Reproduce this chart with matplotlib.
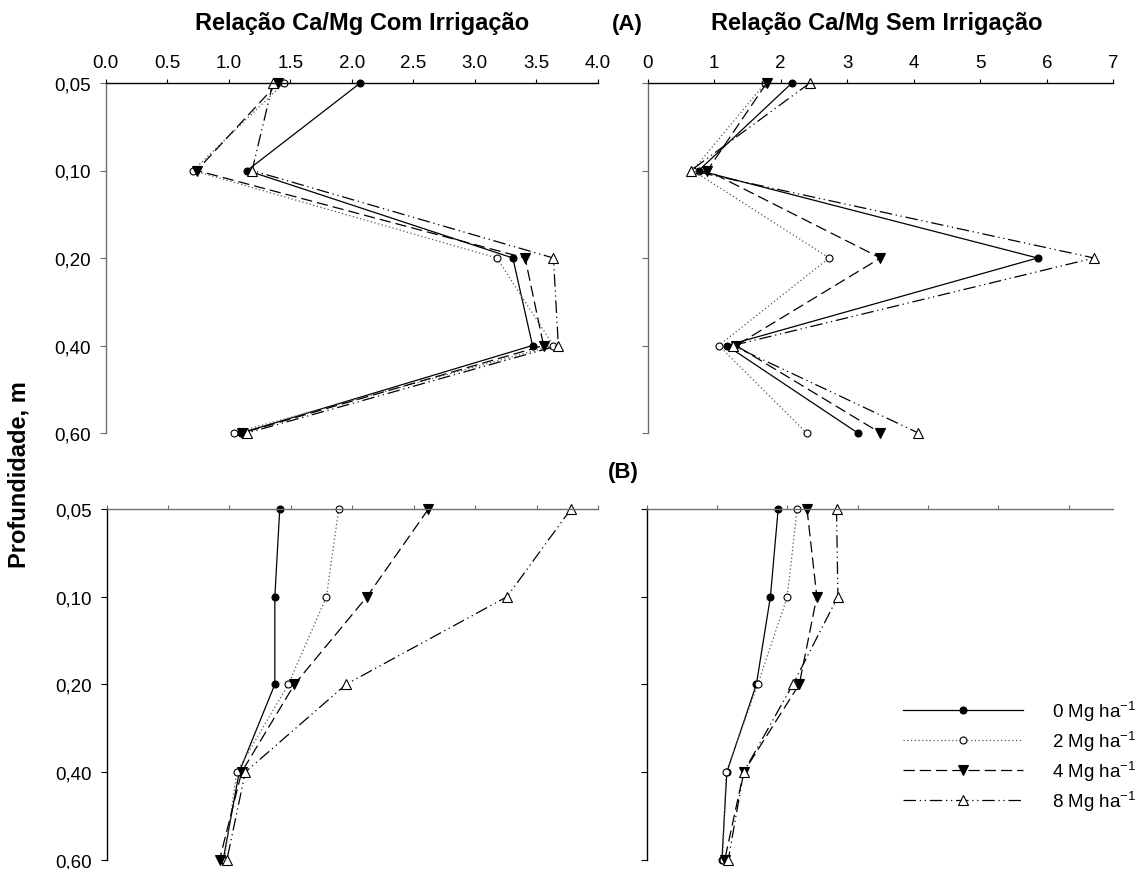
import numpy as np
import matplotlib
matplotlib.use("Agg")
import matplotlib.pyplot as plt

plt.rcParams['font.family'] = ['Liberation Sans', 'DejaVu Sans']
plt.rcParams['mathtext.fontset'] = 'custom'
plt.rcParams['mathtext.rm'] = 'Liberation Sans'

# -----------------------------
# DATA
# -----------------------------
depths = ["0,05", "0,10", "0,20", "0,40", "0,60"]
doses = ["0 Mg ha$^{\\mathregular{-1}}$", "2 Mg ha$^{\\mathregular{-1}}$",
         "4 Mg ha$^{\\mathregular{-1}}$", "8 Mg ha$^{\\mathregular{-1}}$"]

# (A) Com irrigação
a_com_0 = [2.07, 1.15, 3.31, 3.47, 1.10]
a_com_2 = [1.45, 0.71, 3.18, 3.64, 1.04]
a_com_4 = [1.40, 0.74, 3.41, 3.56, 1.11]
a_com_8 = [1.36, 1.19, 3.64, 3.68, 1.15]

# (A) Sem irrigação
a_sem_0 = [2.17, 0.77, 5.86, 1.19, 3.16]
a_sem_2 = [1.77, 0.68, 2.73, 1.07, 2.39]
a_sem_4 = [1.79, 0.90, 3.50, 1.33, 3.50]
a_sem_8 = [2.44, 0.65, 6.71, 1.28, 4.07]

# (B) Com irrigação
b_com_0 = [1.41, 1.37, 1.37, 1.08, 0.95]
b_com_2 = [1.89, 1.79, 1.48, 1.06, 0.96]
b_com_4 = [2.62, 2.12, 1.53, 1.10, 0.92]
b_com_8 = [3.78, 3.26, 1.95, 1.13, 0.98]

# (B) Sem irrigação
b_sem_0 = [1.87, 1.76, 1.56, 1.14, 1.07]
b_sem_2 = [2.14, 2.00, 1.58, 1.13, 1.08]
b_sem_4 = [2.28, 2.42, 2.17, 1.38, 1.11]
b_sem_8 = [2.70, 2.72, 2.08, 1.38, 1.16]

# -----------------------------
# STYLES
# -----------------------------
styles = [
    dict(color="black", ls="-", marker="o", mfc="black", mec="black", ms=5),
    dict(color="#555555", ls=(0, (1, 2)), marker="o", mfc="white", mec="black", ms=5),
    dict(color="black", ls=(0, (9, 4)), marker="v", mfc="black", mec="black", ms=6.5),
    dict(color="black", ls=(0, (10, 3, 1, 3, 1, 3)), marker="^", mfc="white", mec="black", ms=7),
]

W, H = 1139, 870
TICK_FS = 13.5
TITLE_FS = 17
fig = plt.figure(figsize=(W / 100, H / 100), dpi=100)


def px_axes(x0, x1, ytop, ybot):
    return fig.add_axes([x0 / W, 1 - ybot / H, (x1 - x0) / W, (ybot - ytop) / H])


def draw_panel(ax, series, xmax, xticks, xlabels, top_dark, ylabels):
    yidx = np.arange(len(depths))
    for vals, st, lab in zip(series, styles, doses):
        ax.plot(vals, yidx, lw=0.9, mew=0.8, clip_on=False, label=lab, **st)
    ax.set_xlim(0, xmax)
    ax.set_ylim(len(depths) - 1, 0)
    ax.xaxis.tick_top()
    ax.set_xticks(xticks)
    ax.set_yticks(yidx)
    if xlabels is None:
        ax.set_xticklabels([])
    else:
        ax.set_xticklabels(xlabels)
    ax.set_yticklabels(depths if ylabels else [])
    for s in ["right", "bottom"]:
        ax.spines[s].set_visible(False)
    dark, grey = "black", "#6e6e6e"
    ax.spines["top"].set_color(dark if top_dark else grey)
    ax.spines["left"].set_color(grey if top_dark else dark)
    ax.spines["top"].set_linewidth(1.0)
    ax.spines["left"].set_linewidth(1.0)
    ax.tick_params(axis="x", direction="out", length=3, width=0.8, pad=5.5,
                   labelsize=TICK_FS, colors=dark if top_dark else grey,
                   labelcolor="black")
    ax.tick_params(axis="y", direction="out", length=4.5, width=0.8, pad=6,
                   labelsize=TICK_FS, colors=grey if top_dark else dark,
                   labelcolor="black")


ax_tl = px_axes(105.7, 597.7, 84, 434)
ax_tr = px_axes(647.5, 1113.4, 84, 434)
ax_bl = px_axes(106.5, 598.0, 510, 860.7)
ax_br = px_axes(646.7, 1113.4, 510, 860.7)

t_left = np.arange(0, 4.01, 0.5)
draw_panel(ax_tl, [a_com_0, a_com_2, a_com_4, a_com_8], 4.0, t_left,
           [f"{v:.1f}" for v in t_left], True, True)
t_right = np.arange(0, 8)
draw_panel(ax_tr, [a_sem_0, a_sem_2, a_sem_4, a_sem_8], 7.0, t_right,
           [str(v) for v in t_right], True, False)
draw_panel(ax_bl, [b_com_0, b_com_2, b_com_4, b_com_8], 4.0, t_left,
           None, False, True)
draw_panel(ax_br, [b_sem_0, b_sem_2, b_sem_4, b_sem_8], 466.7 / 70.3, np.arange(0, 7),
           None, False, False)

# -----------------------------
# TEXTS
# -----------------------------
fig.text(362 / W, 1 - 30 / H, "Relação Ca/Mg Com Irrigação", ha="center",
         va="baseline", fontsize=TITLE_FS, fontweight="bold")
fig.text(877 / W, 1 - 30 / H, "Relação Ca/Mg Sem Irrigação", ha="center",
         va="baseline", fontsize=TITLE_FS, fontweight="bold")
fig.text(627 / W, 1 - 30 / H, "(A)", ha="center", va="baseline",
         fontsize=16, fontweight="bold")
fig.text(623 / W, 1 - 478 / H, "(B)", ha="center", va="baseline",
         fontsize=16, fontweight="bold")
fig.text(19 / W, 1 - 475 / H, "Profundidade, m", ha="center", va="center",
         rotation=90, fontsize=TITLE_FS, fontweight="bold")

handles, labels = ax_br.get_legend_handles_labels()
fig.legend(handles, labels, loc="upper left",
           bbox_to_anchor=(903 / W, 1 - 699 / H), frameon=False,
           fontsize=TICK_FS, handlelength=6.4, handletextpad=1.55,
           labelspacing=0.28, borderpad=0, borderaxespad=0)

fig.savefig("out.png", dpi=100)
